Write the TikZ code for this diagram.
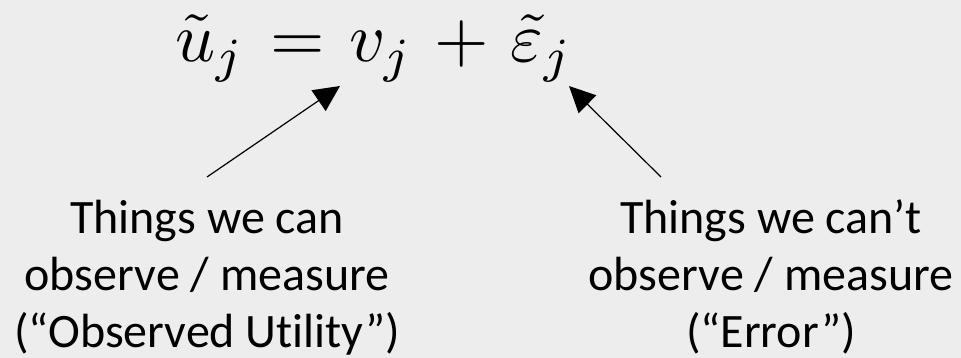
\documentclass[tikz,border=0pt]{standalone}
\usepackage{graphicx}
\usepackage{fontspec}
\setmainfont{Carlito}[Ligatures=NoCommon]
\usetikzlibrary{arrows.meta}
\definecolor{bg}{HTML}{EDEDED}
\begin{document}
\begin{tikzpicture}[x=1pt,y=-1pt,
  lbl/.style={font=\fontsize{48}{57}\selectfont, align=center, inner sep=0pt, anchor=base},
  eqn/.style={inner sep=0pt, anchor=base},
  arr/.style={line width=1.2pt, -{Triangle[length=26pt,width=25pt]}}]
\fill[bg] (0,0) rectangle (961,358);
\useasboundingbox (0,0) rectangle (961,358);
\node[eqn] (eq) at (374,62) {\scalebox{7}{$\tilde{u}_j \mkern1.5mu=\mkern1.5mu v_j \mkern1.5mu+\mkern1.5mu \tilde{\varepsilon}_j$}};
\node[lbl] (L) at (207,347) {Things we can\\observe / measure\\(“Observed Utility”)};
\node[lbl] (R) at (771,347) {Things we can’t\\observe / measure\\(“Error”)};
\coordinate (tailL) at (207,177);
\coordinate (tipL) at (340,86);
\coordinate (tailR) at (661,177);
\coordinate (tipR) at (569,86);
\draw[arr] (tailL) -- (tipL);
\draw[arr] (tailR) -- (tipR);
\end{tikzpicture}
\end{document}
